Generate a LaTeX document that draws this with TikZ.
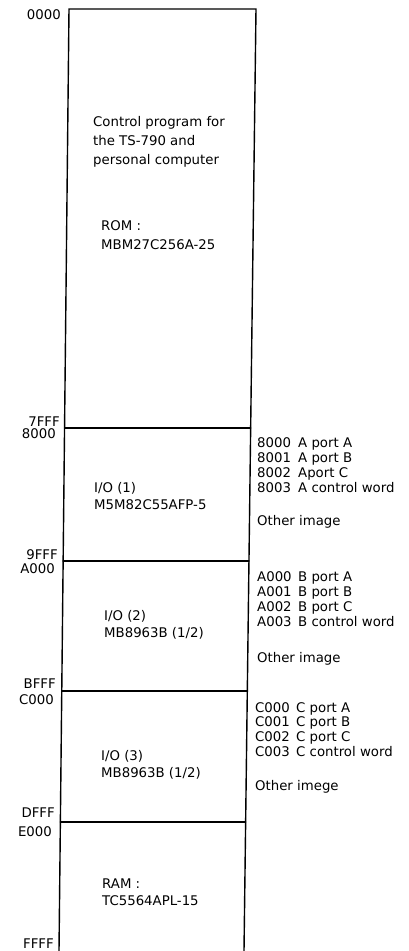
\documentclass[tikz,border=0pt]{standalone}
\usepackage{fontspec}
\setmainfont{DejaVu Sans}
\usetikzlibrary{calc}
\begin{document}
\begin{tikzpicture}[x=1pt,y=-1pt,
  lbl/.style={inner sep=0pt, text height=9.6pt, text depth=0pt, font=\fontsize{13.3}{16}\selectfont},
  addr/.style={lbl, anchor=east},
  txt/.style={lbl, anchor=west},
  boxline/.style={line width=1.4pt, line cap=round}]
\newcommand\portrow[2]{\makebox[41pt][l]{#1}#2}
\useasboundingbox (0,0) rectangle (408,951);
\coordinate (TL) at (69,9);
\coordinate (BL) at (59,951);
\coordinate (TR) at (256,9);
\coordinate (BR) at (244,951);
\draw[boxline] (BL) -- (TL) -- (TR) -- (BR);
\foreach \y in {428,561,691,822} {
  \pgfmathsetmacro\t{(\y-9)/942}
  \draw[boxline] ($(TL)!\t!(BL)$) -- ($(TR)!\t!(BR)$);
}
% address labels on the left
\node[addr] (a0000) at (61,15) {0000};
\node[addr] (a7FFF) at (60,422) {7FFF};
\node[addr] (a8000) at (56,434) {8000};
\node[addr] (a9FFF) at (58,555) {9FFF};
\node[addr] (aA000) at (55,569) {A000};
\node[addr] (aBFFF) at (56,684) {BFFF};
\node[addr] (aC000) at (54,700) {C000};
\node[addr] (aDFFF) at (55,813) {DFFF};
\node[addr] (aE000) at (52,832) {E000};
\node[addr] (aFFFF) at (54,944) {FFFF};
% ROM block
\node[txt] (rom1) at (93,122) {Control program for};
\node[txt] (rom2) at (93,141) {the TS-790 and};
\node[txt] (rom3) at (93,160) {personal computer};
\node[txt] (rom4) at (101,226) {ROM :};
\node[txt] (rom5) at (101,245) {MBM27C256A-25};
% I/O 1
\node[txt] (io1a) at (94,488) {I/O (1)};
\node[txt] (io1b) at (94,505) {M5M82C55AFP-5};
% I/O 2
\node[txt] (io2a) at (104,616) {I/O (2)};
\node[txt] (io2b) at (104,633) {MB8963B (1/2)};
% I/O 3
\node[txt] (io3a) at (101,756) {I/O (3)};
\node[txt] (io3b) at (101,773) {MB8963B (1/2)};
% RAM
\node[txt] (ram1) at (102,884) {RAM :};
\node[txt] (ram2) at (102,901) {TC5564APL-15};
% port lists
\node[txt] (p8000) at (257,443) {\portrow{8000}{A port A}};
\node[txt] (p8001) at (257,458) {\portrow{8001}{A port B}};
\node[txt] (p8002) at (257,473) {\portrow{8002}{Aport C}};
\node[txt] (p8003) at (257,488) {\portrow{8003}{A control word}};
\node[txt] (o1) at (257,521) {Other image};
\node[txt] (pA000) at (257,577) {\portrow{A000}{B port A}};
\node[txt] (pA001) at (257,592) {\portrow{A001}{B port B}};
\node[txt] (pA002) at (257,607) {\portrow{A002}{B port C}};
\node[txt] (pA003) at (257,622) {\portrow{A003}{B control word}};
\node[txt] (o2) at (257,658) {Other image};
\node[txt] (pC000) at (255,708) {\portrow{C000}{C port A}};
\node[txt] (pC001) at (255,722) {\portrow{C001}{C port B}};
\node[txt] (pC002) at (255,737) {\portrow{C002}{C port C}};
\node[txt] (pC003) at (255,752) {\portrow{C003}{C control word}};
\node[txt] (o3) at (255,786) {Other imege};
\end{tikzpicture}
\end{document}
